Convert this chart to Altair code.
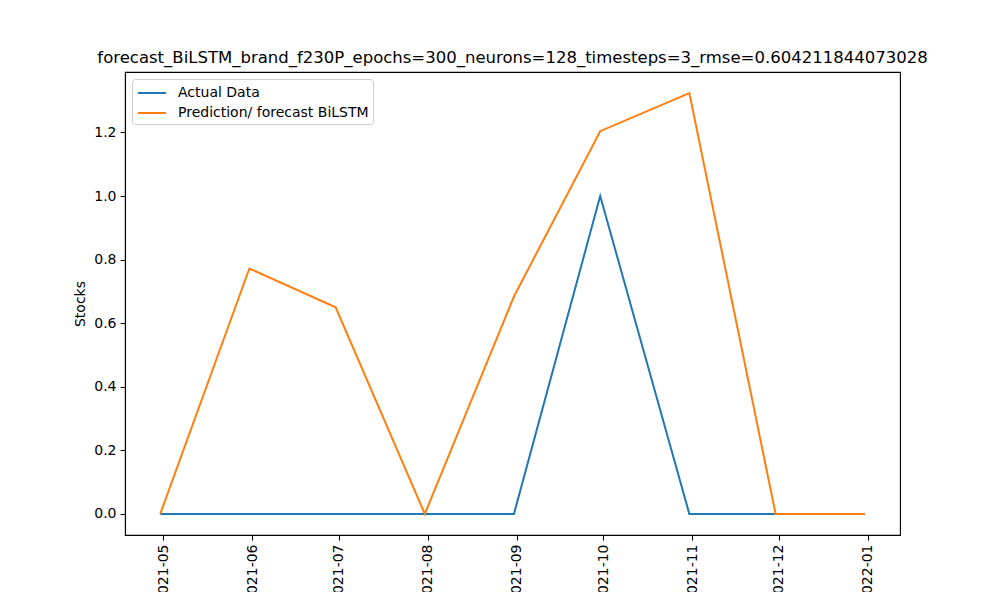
import altair as alt
import pandas as pd

# month-end dates of the forecast window
dates = ["2021-04-30", "2021-05-31", "2021-06-30", "2021-07-31", "2021-08-31",
         "2021-09-30", "2021-10-31", "2021-11-30", "2021-12-31"]
actual = [0.0, 0.0, 0.0, 0.0, 0.0, 1.0, 0.0, 0.0, 0.0]
predicted = [0.0, 0.772, 0.650, 0.0, 0.684, 1.204, 1.324, 0.0, 0.0]

series_names = ["Actual Data", "Prediction/ forecast BiLSTM"]
series_colors = ["#1f77b4", "#ff7f0e"]

tick_months = [(2021, 5), (2021, 6), (2021, 7), (2021, 8), (2021, 9),
               (2021, 10), (2021, 11), (2021, 12), (2022, 1)]
y_ticks = [0.0, 0.2, 0.4, 0.6, 0.8, 1.0, 1.2]

title_text = "forecast_BiLSTM_brand_f230P_epochs=300_neurons=128_timesteps=3_rmse=0.604211844073028"

df = pd.concat([
    pd.DataFrame({"date": dates, "value": actual, "series": series_names[0]}),
    pd.DataFrame({"date": dates, "value": predicted, "series": series_names[1]}),
])

# matplotlib-like 5% margins around the data
t0 = pd.Timestamp(dates[0])
t1 = pd.Timestamp(dates[-1])
pad = (t1 - t0) * 0.05
x_domain = [int((t0 - pad).timestamp() * 1000), int((t1 + pad).timestamp() * 1000)]
y_max = max(predicted)
y_domain = [-0.05 * y_max, y_max * 1.05]

font = "DejaVu Sans"

chart = alt.Chart(df).mark_line(strokeWidth=2).encode(
    x=alt.X(
        "date:T",
        title=None,
        scale=alt.Scale(type="utc", domain=x_domain, nice=False),
        axis=alt.Axis(
            values=[alt.DateTime(year=y, month=m, date=1, utc=True) for y, m in tick_months],
            format="%Y-%m", labelAngle=270, labelAlign="right",
            labelBaseline="middle",
        ),
    ),
    y=alt.Y(
        "value:Q",
        title="Stocks",
        scale=alt.Scale(domain=y_domain, nice=False, zero=False),
        axis=alt.Axis(values=y_ticks, format=".1f", titlePadding=6),
    ),
    color=alt.Color(
        "series:N",
        scale=alt.Scale(domain=series_names, range=series_colors),
        legend=alt.Legend(
            title=None, orient="none", legendX=7, legendY=7,
            symbolType="M-0.889,0H2.222", symbolSize=324, symbolStrokeWidth=2,
            labelFontSize=14, labelFont=font, labelColor="black", labelLimit=400,
            labelOffset=22, rowPadding=3, padding=4,
            fillColor="white", strokeColor="#cccccc", cornerRadius=3,
        ),
    ),
    order=alt.Order("date:T"),
).properties(
    width=775,
    height=463,
    padding={"left": 117, "top": 64, "right": 92, "bottom": 57},
    autosize=alt.AutoSizeParams(type="none"),
    title=alt.TitleParams(
        title_text, fontSize=16.5, font=font, fontWeight="normal", color="black",
        anchor="middle", frame="group", offset=-10, baseline="bottom",
    ),
).configure_view(
    stroke="black", strokeWidth=1.1,
).configure_axis(
    grid=False,
    domainColor="black", domainWidth=1.1,
    tickColor="black", tickWidth=1.1, tickSize=5,
    labelFont=font, labelFontSize=14, labelColor="black", labelPadding=4,
    titleFont=font, titleFontSize=14, titleFontWeight="normal", titleColor="black",
)

chart.save("out.html", embed_options={"renderer": "svg", "actions": False})
